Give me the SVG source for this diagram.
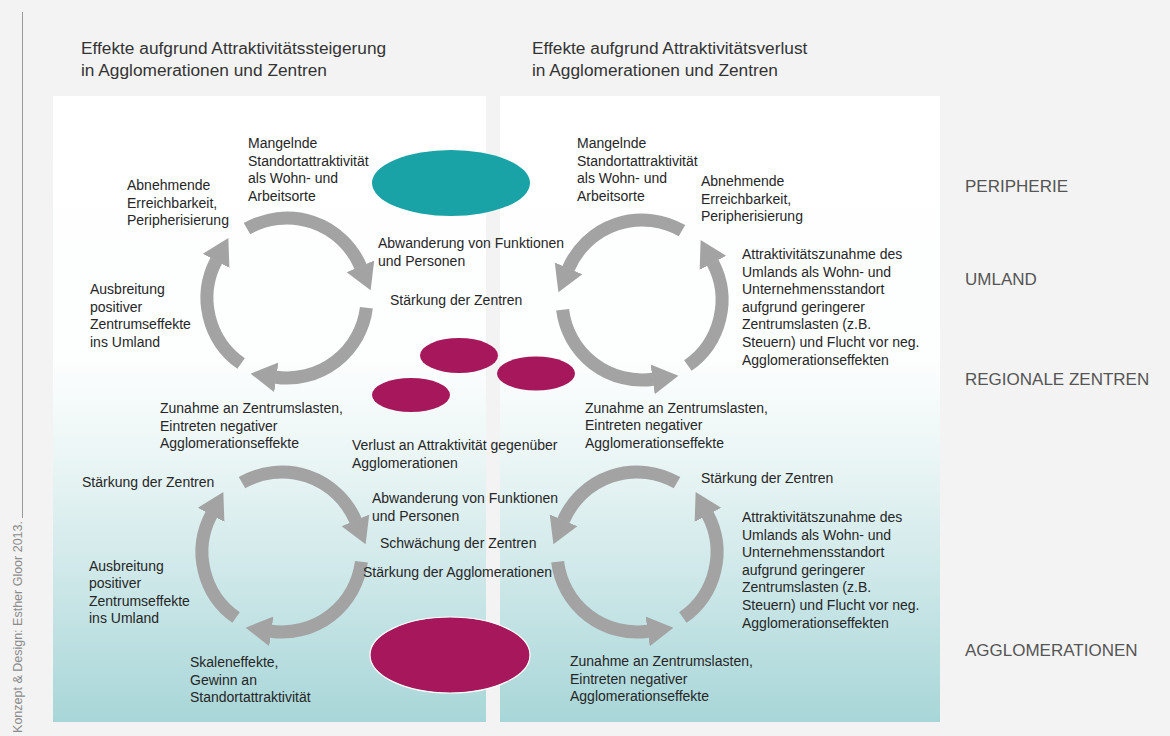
<svg xmlns="http://www.w3.org/2000/svg" width="1170" height="736" viewBox="0 0 1170 736">
  <defs>
    <linearGradient id="panelFill" gradientUnits="userSpaceOnUse" x1="0" y1="95" x2="0" y2="722">
      <stop offset="0" stop-color="#ffffff"/>
      <stop offset="0.42" stop-color="#fdfefe"/>
      <stop offset="0.57" stop-color="#ecf6f6"/>
      <stop offset="0.75" stop-color="#d1e9ea"/>
      <stop offset="1" stop-color="#a8d6d8"/>
    </linearGradient>
    <marker id="head" viewBox="0 -16 27 32" refX="0.5" refY="0" markerWidth="27" markerHeight="32" markerUnits="userSpaceOnUse" orient="auto">
      <path d="M0,-15 L26,0 L0,15 Z" fill="#a3a3a3"/>
    </marker>
    <style>
      text { font-family: "Liberation Sans", Arial, Helvetica, sans-serif; }
      .title { font-size: 17.3px; fill: #333333; }
      .body { font-size: 14px; fill: #262626; }
      .zone { font-size: 17px; fill: #555555; }
      .credit { font-size: 12.5px; fill: #8c8c8c; }
      .cycle { fill: none; stroke: #a3a3a3; stroke-width: 13; marker-end: url(#head); }
      .teal { fill: #19a3a6; }
      .crimson { fill: #a6175b; }
    </style>
  </defs>

  <!-- page background -->
  <rect x="0" y="0" width="1170" height="736" fill="#f3f3f3"/>
  <line x1="22.5" y1="12" x2="22.5" y2="518" stroke="#9a9a9a" stroke-width="1"/>
  <text class="credit" transform="translate(21.5,521) rotate(-90)" text-anchor="end">Konzept &amp; Design: Esther Gloor 2013.</text>

  <!-- two panels -->
  <rect x="53" y="96" width="433" height="626" fill="url(#panelFill)"/>
  <rect x="500" y="96" width="440" height="626" fill="url(#panelFill)"/>

  <!-- column headings -->
  <g id="heading-left">
    <text class="title" x="81" y="54">Effekte aufgrund Attraktivitätssteigerung</text>
    <text class="title" x="81" y="76">in Agglomerationen und Zentren</text>
  </g>
  <g id="heading-right">
    <text class="title" x="532" y="54">Effekte aufgrund Attraktivitätsverlust</text>
    <text class="title" x="532" y="76">in Agglomerationen und Zentren</text>
  </g>

  <!-- zone labels -->
  <g id="zone-peripherie"><text class="zone" x="965" y="192">PERIPHERIE</text></g>
  <g id="zone-umland"><text class="zone" x="965" y="285">UMLAND</text></g>
  <g id="zone-regionale-zentren"><text class="zone" x="965" y="385">REGIONALE ZENTREN</text></g>
  <g id="zone-agglomerationen"><text class="zone" x="965" y="656">AGGLOMERATIONEN</text></g>

  <!-- settlement ellipses -->
  <g id="peripherie-ellipse"><ellipse class="teal" cx="451" cy="183" rx="79" ry="33"/></g>
  <g id="zentrum-1"><ellipse class="crimson" cx="459" cy="355.5" rx="39" ry="17.5"/></g>
  <g id="zentrum-2"><ellipse class="crimson" cx="536" cy="373.5" rx="39" ry="17"/></g>
  <g id="zentrum-3"><ellipse class="crimson" cx="411" cy="395" rx="39" ry="17"/></g>
  <g id="agglomeration-ellipse"><ellipse class="crimson" cx="450" cy="655" rx="80" ry="38" stroke="#ffffff" stroke-width="1.2"/></g>

  <!-- cycle arrows -->
  <g id="connectors">
    <!-- upper left cycle, clockwise -->
    <path class="cycle" d="M247,228.72 A80,80 0 0 1 360.64,266.74"/>
    <path class="cycle" d="M366.4,307.75 A80,80 0 0 1 275.86,377.22"/>
    <path class="cycle" d="M241.11,363.54 A80,80 0 0 1 216.37,260.44"/>
    <!-- upper right cycle, counter-clockwise -->
    <path class="cycle" d="M682,230.72 A80,80 0 0 0 568.36,268.74"/>
    <path class="cycle" d="M562.6,309.75 A80,80 0 0 0 653.14,379.22"/>
    <path class="cycle" d="M687.89,365.54 A80,80 0 0 0 712.63,262.44"/>
    <!-- lower left cycle, clockwise -->
    <path class="cycle" d="M242,482.72 A80,80 0 0 1 355.64,520.74"/>
    <path class="cycle" d="M361.4,561.75 A80,80 0 0 1 270.86,631.22"/>
    <path class="cycle" d="M236.11,617.54 A80,80 0 0 1 211.37,514.44"/>
    <!-- lower right cycle, counter-clockwise -->
    <path class="cycle" d="M677,482.72 A80,80 0 0 0 563.36,520.74"/>
    <path class="cycle" d="M557.6,561.75 A80,80 0 0 0 648.14,631.22"/>
    <path class="cycle" d="M682.89,617.54 A80,80 0 0 0 707.63,514.44"/>
  </g>

  <!-- left column, upper cycle -->
  <g id="l-mangelnde">
    <text class="body" x="248" y="148">Mangelnde</text>
    <text class="body" x="248" y="165.5">Standortattraktivität</text>
    <text class="body" x="248" y="183">als Wohn- und</text>
    <text class="body" x="248" y="200.5">Arbeitsorte</text>
  </g>
  <g id="l-abnehmende">
    <text class="body" x="127" y="190">Abnehmende</text>
    <text class="body" x="127" y="207.5">Erreichbarkeit,</text>
    <text class="body" x="127" y="225">Peripherisierung</text>
  </g>
  <g id="l-abwanderung-1">
    <text class="body" x="378" y="248">Abwanderung von Funktionen</text>
    <text class="body" x="378" y="265.5">und Personen</text>
  </g>
  <g id="l-staerkung-zentren-1">
    <text class="body" x="390" y="305">Stärkung der Zentren</text>
  </g>
  <g id="l-ausbreitung-1">
    <text class="body" x="90" y="294">Ausbreitung</text>
    <text class="body" x="90" y="311.5">positiver</text>
    <text class="body" x="90" y="329">Zentrumseffekte</text>
    <text class="body" x="90" y="346.5">ins Umland</text>
  </g>
  <g id="l-zunahme-1">
    <text class="body" x="160" y="413">Zunahme an Zentrumslasten,</text>
    <text class="body" x="160" y="430.5">Eintreten negativer</text>
    <text class="body" x="160" y="448">Agglomerationseffekte</text>
  </g>
  <g id="l-verlust">
    <text class="body" x="352" y="450">Verlust an Attraktivität gegenüber</text>
    <text class="body" x="352" y="467.5">Agglomerationen</text>
  </g>

  <!-- left column, lower cycle -->
  <g id="l-staerkung-zentren-2">
    <text class="body" x="82" y="487">Stärkung der Zentren</text>
  </g>
  <g id="l-abwanderung-2">
    <text class="body" x="372" y="503">Abwanderung von Funktionen</text>
    <text class="body" x="372" y="520.5">und Personen</text>
  </g>
  <g id="l-schwaechung">
    <text class="body" x="380" y="548">Schwächung der Zentren</text>
  </g>
  <g id="l-staerkung-agglo">
    <text class="body" x="363" y="577">Stärkung der Agglomerationen</text>
  </g>
  <g id="l-ausbreitung-2">
    <text class="body" x="89" y="570.5">Ausbreitung</text>
    <text class="body" x="89" y="588">positiver</text>
    <text class="body" x="89" y="605.5">Zentrumseffekte</text>
    <text class="body" x="89" y="623">ins Umland</text>
  </g>
  <g id="l-skaleneffekte">
    <text class="body" x="190" y="667">Skaleneffekte,</text>
    <text class="body" x="190" y="684.5">Gewinn an</text>
    <text class="body" x="190" y="702">Standortattraktivität</text>
  </g>

  <!-- right column, upper cycle -->
  <g id="r-mangelnde">
    <text class="body" x="577" y="148">Mangelnde</text>
    <text class="body" x="577" y="165.5">Standortattraktivität</text>
    <text class="body" x="577" y="183">als Wohn- und</text>
    <text class="body" x="577" y="200.5">Arbeitsorte</text>
  </g>
  <g id="r-abnehmende">
    <text class="body" x="701" y="186">Abnehmende</text>
    <text class="body" x="701" y="203.5">Erreichbarkeit,</text>
    <text class="body" x="701" y="221">Peripherisierung</text>
  </g>
  <g id="r-attraktivitaet-1">
    <text class="body" x="742" y="259">Attraktivitätszunahme des</text>
    <text class="body" x="742" y="276.6">Umlands als Wohn- und</text>
    <text class="body" x="742" y="294.2">Unternehmensstandort</text>
    <text class="body" x="742" y="311.8">aufgrund geringerer</text>
    <text class="body" x="742" y="329.4">Zentrumslasten (z.B.</text>
    <text class="body" x="742" y="347">Steuern) und Flucht vor neg.</text>
    <text class="body" x="742" y="364.6">Agglomerationseffekten</text>
  </g>
  <g id="r-zunahme-1">
    <text class="body" x="585" y="412.5">Zunahme an Zentrumslasten,</text>
    <text class="body" x="585" y="430">Eintreten negativer</text>
    <text class="body" x="585" y="447.5">Agglomerationseffekte</text>
  </g>

  <!-- right column, lower cycle -->
  <g id="r-staerkung-zentren">
    <text class="body" x="701" y="483">Stärkung der Zentren</text>
  </g>
  <g id="r-attraktivitaet-2">
    <text class="body" x="742" y="522">Attraktivitätszunahme des</text>
    <text class="body" x="742" y="539.6">Umlands als Wohn- und</text>
    <text class="body" x="742" y="557.2">Unternehmensstandort</text>
    <text class="body" x="742" y="574.8">aufgrund geringerer</text>
    <text class="body" x="742" y="592.4">Zentrumslasten (z.B.</text>
    <text class="body" x="742" y="610">Steuern) und Flucht vor neg.</text>
    <text class="body" x="742" y="627.6">Agglomerationseffekten</text>
  </g>
  <g id="r-zunahme-2">
    <text class="body" x="570" y="666">Zunahme an Zentrumslasten,</text>
    <text class="body" x="570" y="683.5">Eintreten negativer</text>
    <text class="body" x="570" y="701">Agglomerationseffekte</text>
  </g>
</svg>
